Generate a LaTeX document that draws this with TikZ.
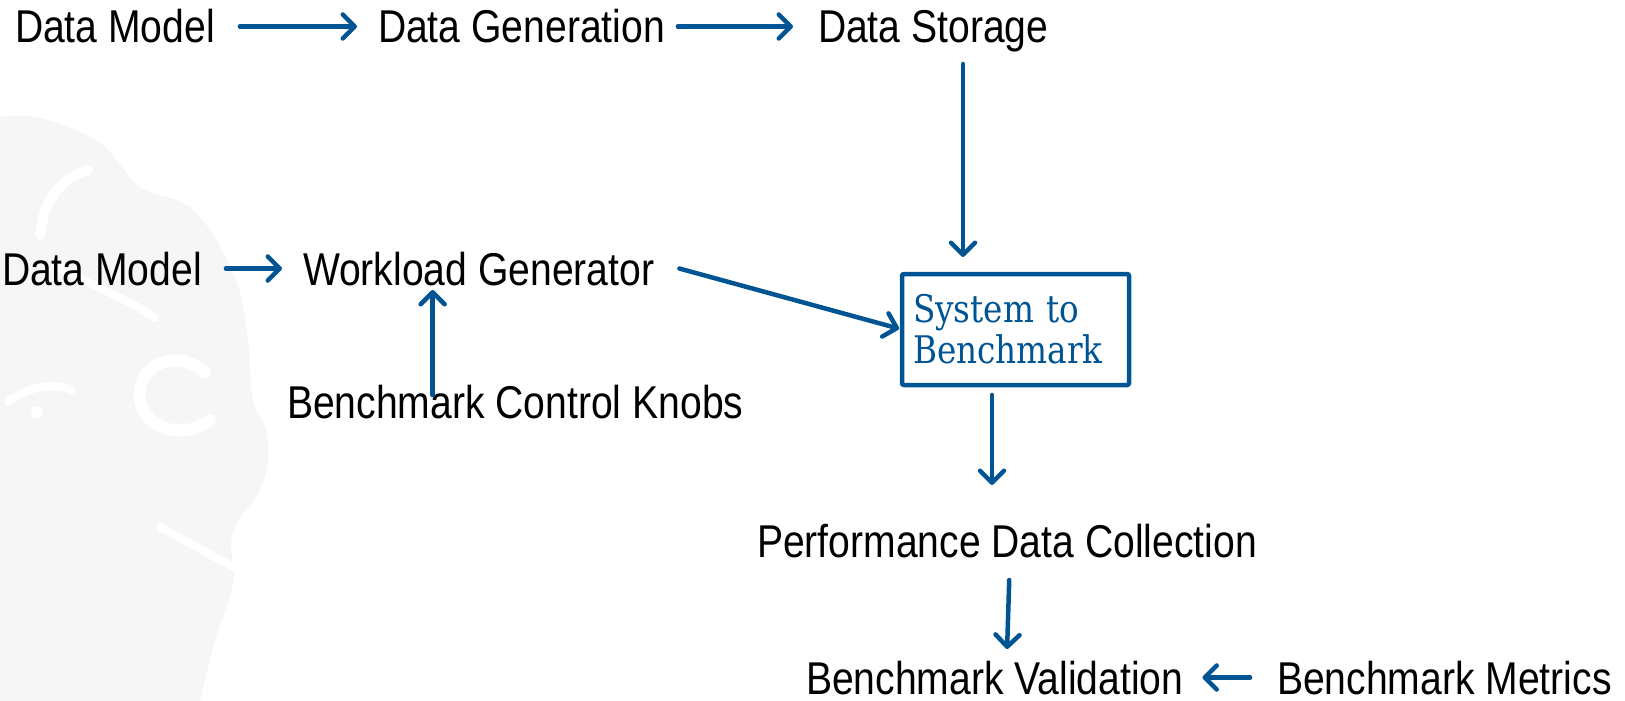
\documentclass[tikz,border=0pt]{standalone}
\usepackage{fontspec}
\setmainfont{Liberation Sans}[FakeStretch=0.85]
\newfontfamily\boxfont{DejaVu Serif}[FakeStretch=0.86]
\usetikzlibrary{arrows.meta}
\definecolor{arrblue}{RGB}{0,84,147}
\definecolor{wm}{RGB}{246,246,246}
\begin{document}
\begin{tikzpicture}[x=1pt,y=-1pt,
  lbl/.style={font=\fontsize{46}{50}\selectfont, inner sep=0pt, outer sep=0pt,
    text height=33pt, text depth=0pt, anchor=base west},
  arr/.style={draw=arrblue, line width=4.5pt, line cap=round,
    -{Straight Barb[length=12pt,width=24pt,line join=round,line cap=round]}},
  sysbox/.style={draw=arrblue, line width=4.5pt, rounded corners=2pt,
    minimum width=227pt, minimum height=111pt, inner xsep=11pt, inner ysep=0pt,
    outer sep=0pt, text width=205pt, align=left, text=arrblue,
    font=\boxfont\fontsize{38}{41}\selectfont}]
\useasboundingbox (0,0) rectangle (1625,701);
% faint watermark
\fill[wm] plot[smooth, tension=0.7] coordinates {(0,117) (40,118) (100,143) (140,187) (193,210) (233,273) (247,333) (253,400) (267,433) (263,483) (233,533) (233,583) (215,640) (200,701)} -- (0,701) -- cycle;
\draw[white, line width=10pt, line cap=round] (40,235) .. controls (45,190) and (70,175) .. (88,170);
\draw[white, line width=8pt, line cap=round] (55,265) .. controls (90,285) and (130,300) .. (155,318);
\draw[white, line width=12pt, line cap=round] (205,372) .. controls (170,345) and (135,370) .. (140,400) .. controls (145,430) and (185,440) .. (210,420);
\draw[white, line width=8pt, line cap=round] (8,402) .. controls (30,385) and (55,383) .. (72,390);
\fill[white] (37,412) circle (6);
\draw[white, line width=8pt, line cap=round] (160,527) -- (233,567);
% nodes
\node[lbl] (dm1) at (15,43) {Data Model};
\node[lbl] (dg) at (378,43) {Data Generation};
\node[lbl] (ds) at (818,43) {Data Storage};
\node[lbl] (dm2) at (2,285) {Data Model};
\node[lbl] (wg) at (303,285) {Workload Generator};
\node[lbl] (bck) at (287,418) {Benchmark Control Knobs};
\node[lbl] (pdc) at (757,557) {Performance Data Collection};
\node[lbl] (bv) at (806,694) {Benchmark Validation};
\node[lbl] (bm) at (1277,694) {Benchmark Metrics};
\node[sysbox] (sys) at (1015.5,329.5) {System to\\Benchmark};
% connectors
\draw[arr, shorten <=25pt, shorten >=21pt] (dm1.east) -- (dg.west);
\draw[arr, shorten <=13pt, shorten >=25pt] (dg.east) -- (ds.west);
\draw[arr, shorten <=21pt, shorten >=17pt] ([xshift=-52.5pt]sys.north |- ds.south) -- ([xshift=-52.5pt]sys.north);
\draw[arr, shorten <=24pt, shorten >=21pt] (dm2.east) -- (wg.west);
\draw[arr, shorten >=3pt] ([xshift=25pt]wg.east) -- (sys.west);
\draw[arr, shorten <=23pt, shorten >=5pt] ([xshift=-46pt]wg.south |- bck.base) -- ([xshift=-46pt]wg.south);
\draw[arr, shorten <=10pt, shorten >=39pt] ([xshift=-23.5pt]sys.south) -- ([xshift=-23.5pt]sys.south |- pdc.north);
\draw[arr, shorten <=23pt, shorten >=12pt] ([xshift=3pt]pdc.south) -- ([xshift=12pt]bv.north);
\draw[arr, shorten <=27pt, shorten >=19pt] (bm.west) -- (bv.east);
\end{tikzpicture}
\end{document}
